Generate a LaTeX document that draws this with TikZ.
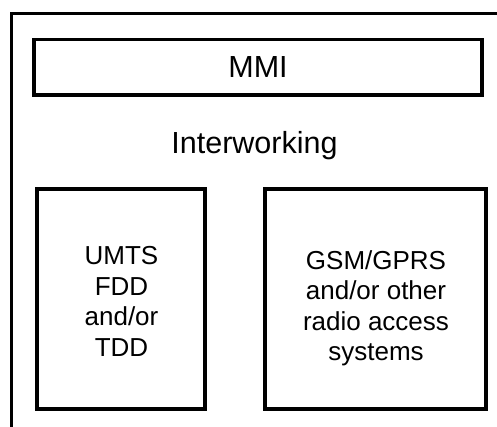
\documentclass[tikz,border=0pt]{standalone}
\usepackage{fontspec}
\setmainfont{Liberation Sans}
\begin{document}
\begin{tikzpicture}[x=1pt,y=1pt,
  frame/.style={line width=3.8pt},
  blk/.style={draw,line width=3.8pt,rectangle,inner sep=0pt,outer sep=0pt},
  txt/.style={align=center,inner sep=0pt,font=\fontsize{26}{30.5}\selectfont},
  big/.style={font=\fontsize{30.5}{34}\selectfont}]
\useasboundingbox (0,0) rectangle (497,426);
\coordinate (fb) at (11.5,-5);
\coordinate (fc) at (11.5,412.5);
\coordinate (fr) at (505,412.5);
\draw[frame] (fb) -- (fc) -- (fr);
\node[blk,big,minimum width=448pt,minimum height=55.5pt] (mmi) at (258,358.75) {MMI};
\node[big] (iw) at (254.5,280.5) {Interworking};
\node[blk,minimum width=168pt,minimum height=220pt] (umts) at (121,127) {};
\node[txt] (umtsT) at (121.5,124.5) {UMTS\\FDD\\and/or\\TDD};
\node[blk,minimum width=221pt,minimum height=220pt] (gsm) at (375.5,127) {};
\node[txt] (gsmT) at (376,117.5) {GSM/GPRS\\and/or other\\radio access\\systems};
\end{tikzpicture}
\end{document}
